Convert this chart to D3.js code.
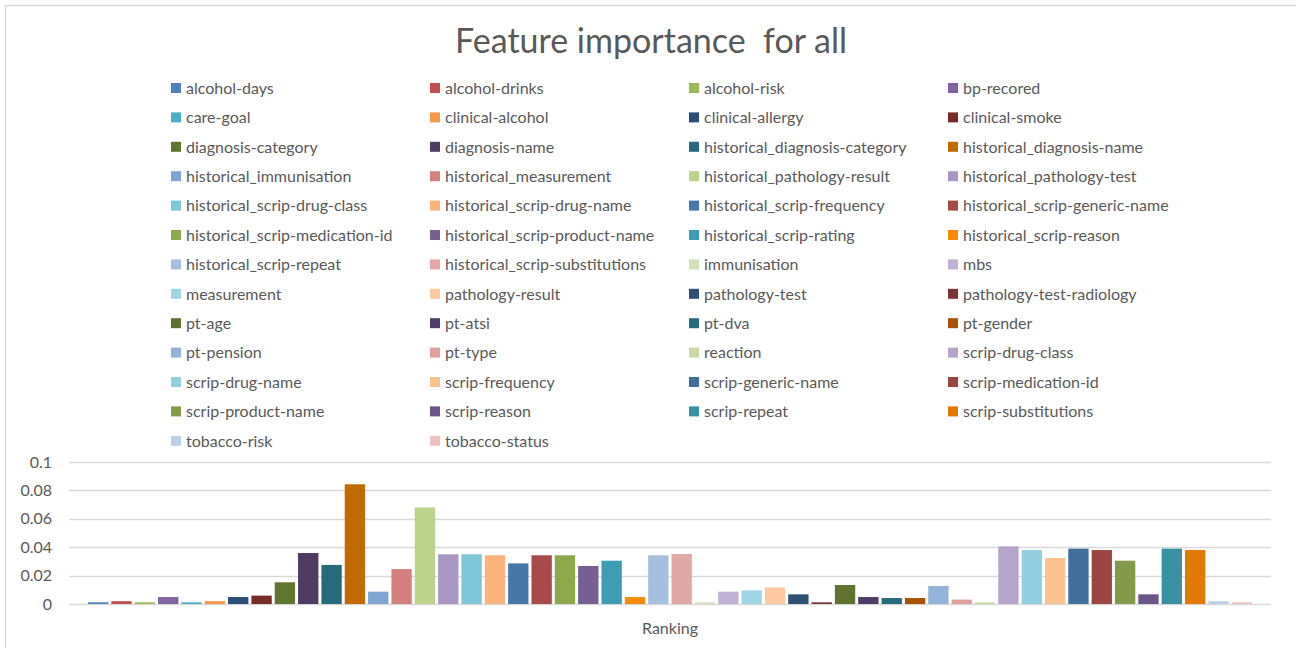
<!DOCTYPE html>
<html>
<head>
<meta charset="utf-8">
<script src="https://cdn.jsdelivr.net/npm/d3@7"></script>
<style>
  html, body { margin: 0; padding: 0; background: #fff; }
  svg { display: block; }
  text { font-family: Lato, "Open Sans", sans-serif; fill: #595959; }
</style>
</head>
<body>
<svg id="chart" width="1296" height="648"></svg>
<script>
// ---- data ----
const title = "Feature importance  for all";
const categoryLabel = "Ranking";
const seriesNames = [
  "alcohol-days", "alcohol-drinks", "alcohol-risk", "bp-recored",
  "care-goal", "clinical-alcohol", "clinical-allergy", "clinical-smoke",
  "diagnosis-category", "diagnosis-name", "historical_diagnosis-category", "historical_diagnosis-name",
  "historical_immunisation", "historical_measurement", "historical_pathology-result", "historical_pathology-test",
  "historical_scrip-drug-class", "historical_scrip-drug-name", "historical_scrip-frequency", "historical_scrip-generic-name",
  "historical_scrip-medication-id", "historical_scrip-product-name", "historical_scrip-rating", "historical_scrip-reason",
  "historical_scrip-repeat", "historical_scrip-substitutions", "immunisation", "mbs",
  "measurement", "pathology-result", "pathology-test", "pathology-test-radiology",
  "pt-age", "pt-atsi", "pt-dva", "pt-gender",
  "pt-pension", "pt-type", "reaction", "scrip-drug-class",
  "scrip-drug-name", "scrip-frequency", "scrip-generic-name", "scrip-medication-id",
  "scrip-product-name", "scrip-reason", "scrip-repeat", "scrip-substitutions",
  "tobacco-risk", "tobacco-status"
];
const seriesValues = [
  0.0012, 0.0020, 0.0012, 0.0049,
  0.0012, 0.0020, 0.0049, 0.0059,
  0.0153, 0.0359, 0.0275, 0.0843,
  0.0087, 0.0246, 0.0680, 0.0350,
  0.0350, 0.0343, 0.0286, 0.0343,
  0.0343, 0.0268, 0.0305, 0.0049,
  0.0343, 0.0352, 0.0012, 0.0087,
  0.0096, 0.0117, 0.0068, 0.0012,
  0.0134, 0.0049, 0.0042, 0.0042,
  0.0127, 0.0031, 0.0012, 0.0406,
  0.0380, 0.0324, 0.0390, 0.0380,
  0.0305, 0.0068, 0.0390, 0.0380,
  0.0020, 0.0012
];
const yTicks = [0, 0.02, 0.04, 0.06, 0.08, 0.1];
const yTickLabels = ["0", "0.02", "0.04", "0.06", "0.08", "0.1"];

// ---- style ----
const palette = [
  "#4f81bd", "#c0504d", "#9bbb59", "#8064a2",
  "#4bacc6", "#f79646", "#2c4d75", "#772c2a",
  "#5f7530", "#4d3b62", "#276a7c", "#c06a00",
  "#80a5d2", "#d4807e", "#bcd38c", "#a897c3",
  "#7ec6d8", "#fab47b", "#4677a9", "#a8494a",
  "#8ea84c", "#766092", "#3e9cb3", "#f88a0c",
  "#a6bfdf", "#e2a8a6", "#d3e1b8", "#c0b2d5",
  "#a0d6e3", "#fcc9a0", "#2e5075", "#7a3533",
  "#607230", "#4e3d66", "#286b7b", "#a65200",
  "#93b3d8", "#e09f9d", "#cad9a6", "#b5a5cb",
  "#92cedf", "#fac290", "#426e9c", "#9c4643",
  "#839a4a", "#6c5687", "#3890a3", "#e27a00",
  "#bcd0e8", "#ecc1c0"
];

const svg = d3.select("#chart");
const W = 1296, H = 648;

svg.append("rect").attr("x", 0).attr("y", 0).attr("width", W).attr("height", H).attr("fill", "#fff");
svg.append("rect").attr("x", 5.5).attr("y", 5.5).attr("width", W + 10).attr("height", H + 10)
  .attr("fill", "none").attr("stroke", "#d9d9d9").attr("stroke-width", 1.5);

// title
svg.append("text").attr("x", 651).attr("y", 53).attr("text-anchor", "middle")
  .style("font-size", "34px").style("white-space", "pre").attr("xml:space", "preserve").text(title);

// legend
const legCols = [171, 430, 689, 948];
const legY0 = 88, legStep = 29.4;
const leg = svg.append("g");
seriesNames.forEach((name, i) => {
  const c = i % 4, r = Math.floor(i / 4);
  const g = leg.append("g").attr("transform", `translate(${legCols[c]},${legY0 + r * legStep})`);
  g.append("rect").attr("x", 0).attr("y", -5).attr("width", 10).attr("height", 10).attr("fill", palette[i]);
  g.append("text").attr("x", 15).attr("y", 0).attr("dy", "0.36em").style("font-size", "16px").text(name);
});

// scales
const plotL = 69, plotR = 1271, plotTop = 462, plotBot = 604;
const y = d3.scaleLinear().domain([0, 0.1]).range([plotBot, plotTop]);
const x = d3.scaleBand().domain(seriesNames).range([plotL, plotR]).paddingInner(0).paddingOuter(0.75);

// gridlines
svg.append("g").selectAll("line").data(yTicks).join("line")
  .attr("x1", plotL).attr("x2", plotR)
  .attr("y1", d => Math.round(y(d)) + 0.5).attr("y2", d => Math.round(y(d)) + 0.5)
  .attr("stroke", "#d9d9d9").attr("stroke-width", 1.3);

// y axis labels
const yAxis = d3.axisLeft(y).tickValues(yTicks).tickSize(0).tickPadding(0)
  .tickFormat((d, i) => yTickLabels[i]);
const yg = svg.append("g").attr("transform", `translate(52,0)`).call(yAxis);
yg.select(".domain").remove();
yg.selectAll("text").style("font-size", "16px").style("font-family", "Lato, sans-serif").attr("fill", "#595959");

// bars
const bw = x.bandwidth();
svg.append("g").selectAll("rect").data(seriesNames).join("rect")
  .attr("x", d => x(d) + 1.5)
  .attr("width", bw - 3)
  .attr("y", (d, i) => y(seriesValues[i]))
  .attr("height", (d, i) => plotBot - y(seriesValues[i]))
  .attr("fill", (d, i) => palette[i]);

// x label
svg.append("text").attr("x", (plotL + plotR) / 2).attr("y", 634).attr("text-anchor", "middle")
  .style("font-size", "16px").text(categoryLabel);
</script>
</body>
</html>
